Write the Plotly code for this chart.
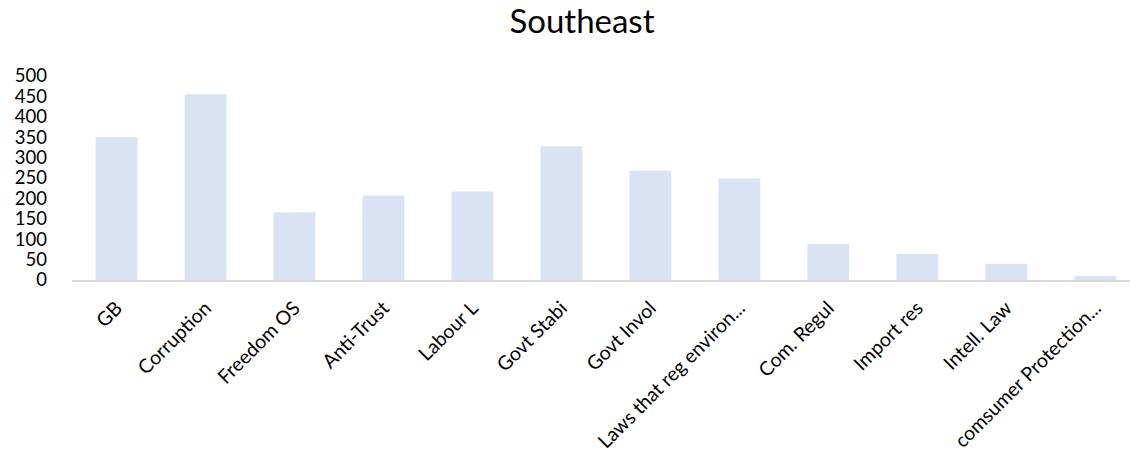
import plotly.graph_objects as go

categories = ["GB", "Corruption", "Freedom OS", "Anti-Trust", "Labour L", "Govt Stabi",
              "Govt Invol", "Laws that reg environ...", "Com. Regul", "Import res",
              "Intell. Law", "comsumer Protection..."]
values = [350, 455, 166, 207, 217, 328, 268, 249, 88, 64, 40, 10]
y_ticks = [0, 50, 100, 150, 200, 250, 300, 350, 400, 450, 500]

fig = go.Figure(go.Bar(x=categories, y=values, marker_color="#DAE3F3",
                       marker_line_width=0))

fig.update_layout(
    width=1130, height=464,
    margin=dict(l=72, r=0, t=76, b=184),
    paper_bgcolor="white", plot_bgcolor="white",
    bargap=0.53,
    showlegend=False,
    font=dict(family="Lato, Carlito, sans-serif", color="black", size=18),
    title=dict(text="Southeast", x=0.515, xanchor="center", y=0.953, yanchor="middle",
               font=dict(size=33, color="black")),
)
fig.update_xaxes(range=[-0.5, 11.39], tickangle=-45, showline=True, linecolor="#D9D9D9",
                 linewidth=2, showgrid=False, ticks="", ticklabelstandoff=7,
                 tickfont=dict(size=19.5))
fig.update_yaxes(range=[0, 500], tickvals=y_ticks, showgrid=False, zeroline=False,
                 showline=False, ticks="", ticklabelstandoff=24, tickfont=dict(size=18.5))

fig.write_html("out.html")
